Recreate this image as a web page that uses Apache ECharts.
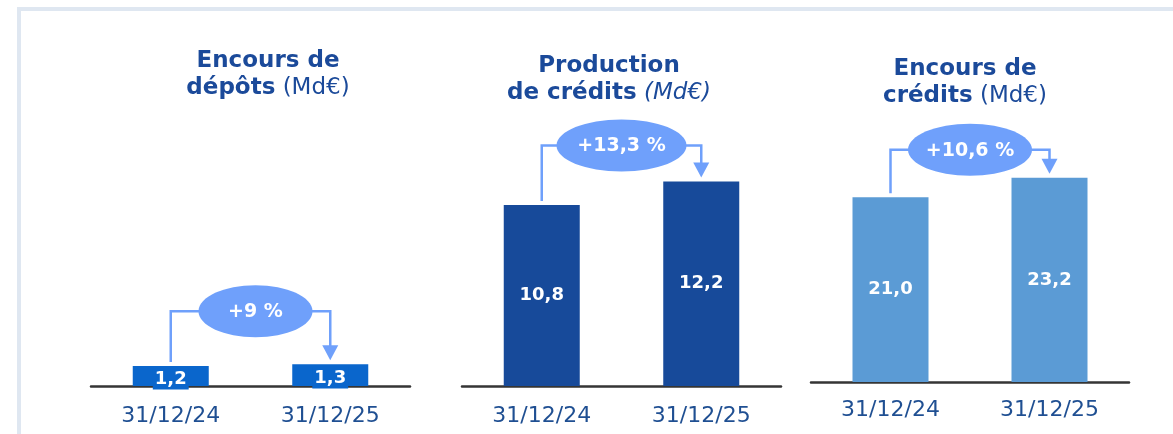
<!DOCTYPE html>
<html>
<head>
<meta charset="utf-8">
<script src="https://cdn.jsdelivr.net/npm/echarts@6/dist/echarts.min.js"></script>
<style>
  html, body { margin: 0; padding: 0; background: #ffffff; }
  #chart { width: 1173px; height: 434px; }
</style>
</head>
<body>
<div id="chart"></div>
<script>
// Dates shown under each pair of bars
const categories = ['31/12/24', '31/12/25'];

// Values in billions of euros (Md€)
const depotsValues = [1.2, 1.3];
const productionValues = [10.8, 12.2];
const encoursCreditsValues = [21.0, 23.2];

// Year-on-year growth shown in the callouts
const growthLabels = ['+9 %', '+13,3 %', '+10,6 %'];

// Panel headings: bold first line, bold start of second line, unit
const titleLine1 = ['Encours de', 'Production', 'Encours de'];
const titleLine2 = ['dépôts', 'de crédits', 'crédits'];
const titleUnit = ['(Md€)', '(Md€)', '(Md€)'];

const seriesValues = [depotsValues, productionValues, encoursCreditsValues];

// Layout and style of the three panels
const panels = [
  { left: 91,  width: 319, top: 101, bottom: 48, max: 17, color: '#0a66cc', boxedLabel: true,
    titleX: 263, titleTop: 43, italicUnit: false, lift: 53, rx: 57, dx: 5, labelMargin: 19 },
  { left: 462, width: 319, top: 101, bottom: 48, max: 17, color: '#174a9a', boxedLabel: false,
    titleX: 604, titleTop: 48, italicUnit: true, lift: 36, rx: 65, dx: 0, labelMargin: 19 },
  { left: 811, width: 318, top: 118, bottom: 52, max: 30, color: '#5b9bd5', boxedLabel: false,
    titleX: 960, titleTop: 51, italicUnit: false, lift: 28, rx: 62, dx: 0, labelMargin: 17 }
];

const FONT = '"DejaVu Sans", sans-serif';
const TITLE_BLUE = '#1b4a9a';
const AXIS_TEXT = '#1f4f92';
const CALLOUT = '#6fa0fb';

const fmt = v => v.toFixed(1).replace('.', ',');

const grids = [], xAxes = [], yAxes = [], series = [], titles = [];

panels.forEach((p, i) => {
  grids.push({ left: p.left, width: p.width, top: p.top, bottom: p.bottom });

  xAxes.push({
    type: 'category', gridIndex: i, data: categories,
    axisLine: { show: true, lineStyle: { color: '#353535', width: 2.5 } },
    axisTick: { show: false },
    axisLabel: { fontFamily: FONT, fontSize: 22, color: AXIS_TEXT, margin: p.labelMargin }
  });

  yAxes.push({ type: 'value', gridIndex: i, min: 0, max: p.max, show: false, splitLine: { show: false } });

  titles.push({
    text: '{b|' + titleLine1[i] + '}\n{b|' + titleLine2[i] + '}{' + (p.italicUnit ? 'it' : 'n') + '| ' + titleUnit[i] + '}',
    left: p.titleX, top: p.titleTop, textAlign: 'center',
    textStyle: {
      rich: {
        b: { fontFamily: FONT, fontSize: 23, fontWeight: 'bold', color: TITLE_BLUE, lineHeight: 27 },
        n: { fontFamily: FONT, fontSize: 23, fontWeight: 'normal', color: TITLE_BLUE, lineHeight: 27 },
        it: { fontFamily: FONT, fontSize: 23, fontWeight: 'normal', fontStyle: 'italic', color: TITLE_BLUE, lineHeight: 27 }
      }
    }
  });

  const label = {
    show: true, position: 'inside', formatter: d => fmt(d.value),
    fontFamily: FONT, fontSize: 18, fontWeight: 'bold', color: '#ffffff'
  };
  if (p.boxedLabel) {
    Object.assign(label, { backgroundColor: p.color, padding: [2, 2, 1, 2], offset: [0, 3] });
  }

  series.push({
    type: 'bar', xAxisIndex: i, yAxisIndex: i, data: seriesValues[i],
    barWidth: 76, itemStyle: { color: p.color }, label: label, silent: true, z: 2
  });

  // Growth callout: bracket from the first bar to an arrow on the second
  series.push({
    type: 'custom', xAxisIndex: i, yAxisIndex: i, silent: true, clip: false, z: 5,
    data: [[0, seriesValues[i][0], 1, seriesValues[i][1]]],
    renderItem: (params, api) => {
      const a = api.coord([api.value(0), api.value(1)]);
      const b = api.coord([api.value(2), api.value(3)]);
      const yc = Math.min(a[1], b[1]) - p.lift;
      const cx = (a[0] + b[0]) / 2 + p.dx;
      const gap = 4, ah = 15, aw = 8;
      const line = { stroke: CALLOUT, lineWidth: 2.5, fill: null };
      return {
        type: 'group',
        children: [
          { type: 'polyline', shape: { points: [[a[0], a[1] - gap], [a[0], yc], [b[0], yc], [b[0], b[1] - gap - ah + 1]] }, style: line },
          { type: 'polygon', shape: { points: [[b[0] - aw, b[1] - gap - ah], [b[0] + aw, b[1] - gap - ah], [b[0], b[1] - gap]] }, style: { fill: CALLOUT } },
          { type: 'ellipse', shape: { cx: cx, cy: yc, rx: p.rx, ry: 26 }, style: { fill: CALLOUT } },
          { type: 'text', x: cx, y: yc + 1, style: { text: growthLabels[i], fill: '#ffffff', font: 'bold 19px ' + FONT, align: 'center', verticalAlign: 'middle' } }
        ]
      };
    }
  });
});

const chart = echarts.init(document.getElementById('chart'), null, { renderer: 'canvas' });
chart.setOption({
  animation: false,
  backgroundColor: '#ffffff',
  title: titles,
  grid: grids,
  xAxis: xAxes,
  yAxis: yAxes,
  series: series,
  graphic: [
    { type: 'rect', shape: { x: 19, y: 9, width: 1300, height: 600 }, style: { fill: null, stroke: '#dfe7f1', lineWidth: 4 }, silent: true }
  ]
});
</script>
</body>
</html>
